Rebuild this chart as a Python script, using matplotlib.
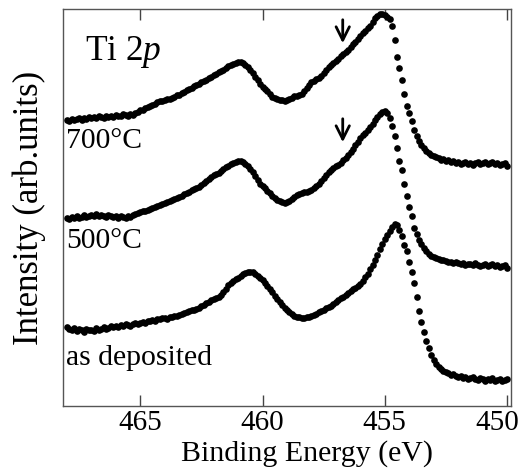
import matplotlib.pyplot as plt
import matplotlib.transforms as mtransforms
import numpy as np

plt.rcParams['font.family'] = ['Liberation Serif', 'DejaVu Serif']
plt.rcParams['mathtext.fontset'] = 'custom'
plt.rcParams['mathtext.rm'] = 'Liberation Serif'
plt.rcParams['mathtext.it'] = 'Liberation Serif:italic'

# binding energy grid, 0.1 eV step from 468.0 down to 450.0
energy = np.round(468.0 - 0.1 * np.arange(181), 1)

# stacked spectra (arb. units)
int_700 = [
    286, 285, 287, 286, 287, 288, 286, 288, 287, 289,
    288, 289, 288, 290, 289, 288, 290, 289, 290, 289,
    291, 290, 290, 292, 291, 290, 292, 291, 293, 294,
    296, 296, 298, 299, 300, 301, 302, 304, 305, 305,
    306, 307, 307, 308, 309, 311, 311, 313, 314, 316,
    317, 318, 320, 321, 322, 324, 325, 326, 328, 329,
    331, 332, 334, 335, 336, 338, 340, 341, 342, 343,
    344, 344, 343, 341, 339, 336, 333, 329, 326, 322,
    319, 317, 315, 312, 309, 308, 307, 306, 306, 305,
    306, 307, 308, 310, 310, 311, 312, 315, 318, 321,
    324, 325, 327, 328, 330, 333, 336, 339, 341, 343,
    345, 347, 350, 352, 354, 356, 359, 362, 364, 367,
    370, 373, 375, 378, 380, 384, 388, 390, 392, 392,
    391, 389, 387, 380, 366, 349, 338, 326, 312, 300,
    293, 285, 276, 270, 265, 261, 258, 255, 253, 251,
    250, 249, 248, 246, 247, 245, 246, 244, 245, 243,
    244, 242, 243, 244, 242, 243, 241, 243, 244, 242,
    243, 244, 242, 243, 244, 242, 243, 241, 242, 243, 240,
]
int_500 = [
    188, 187, 189, 188, 190, 188, 189, 191, 189, 190,
    191, 190, 192, 190, 191, 190, 189, 191, 190, 189,
    190, 188, 190, 189, 188, 190, 189, 191, 192, 193,
    194, 195, 195, 196, 197, 198, 199, 200, 201, 202,
    203, 204, 205, 206, 207, 208, 209, 210, 212, 213,
    214, 216, 217, 218, 219, 221, 223, 225, 227, 229,
    231, 232, 233, 235, 237, 239, 240, 242, 243, 244,
    245, 245, 244, 242, 240, 237, 234, 230, 226, 222,
    220, 218, 215, 213, 210, 208, 206, 205, 204, 203,
    204, 205, 207, 209, 211, 212, 213, 214, 214, 215,
    216, 218, 220, 222, 225, 228, 231, 234, 236, 238,
    240, 241, 243, 246, 248, 251, 254, 257, 261, 264,
    268, 271, 273, 276, 279, 282, 286, 289, 292, 294,
    295, 293, 288, 280, 270, 258, 245, 236, 222, 210,
    199, 190, 178, 172, 166, 162, 158, 155, 152, 150,
    149, 148, 147, 146, 146, 145, 144, 144, 143, 144,
    143, 142, 143, 141, 142, 142, 141, 143, 141, 140,
    141, 142, 140, 141, 142, 140, 141, 139, 140, 141, 138,
]
int_dep = [
    79, 77, 76, 78, 75, 77, 76, 74, 77, 76,
    76, 75, 78, 76, 77, 79, 77, 78, 80, 79,
    80, 79, 81, 80, 82, 81, 80, 82, 83, 82,
    83, 84, 83, 85, 85, 86, 85, 87, 87, 88,
    88, 87, 89, 89, 90, 90, 91, 92, 93, 94,
    95, 96, 96, 97, 98, 100, 101, 103, 104, 106,
    107, 108, 109, 111, 114, 117, 121, 123, 125, 127,
    128, 130, 132, 133, 134, 134, 134, 132, 130, 128,
    126, 123, 120, 117, 114, 110, 107, 104, 101, 98,
    96, 94, 92, 90, 89, 89, 88, 88, 89, 89,
    90, 91, 92, 94, 95, 96, 98, 99, 100, 102,
    104, 106, 108, 109, 111, 113, 115, 117, 118, 120,
    122, 125, 129, 132, 137, 141, 146, 151, 157, 162,
    167, 171, 175, 179, 182, 181, 176, 170, 161, 155,
    144, 134, 123, 109, 95, 84, 74, 65, 58, 51,
    46, 42, 39, 37, 35, 34, 33, 31, 32, 30,
    29, 30, 28, 29, 27, 28, 29, 27, 26, 28,
    27, 25, 27, 26, 28, 25, 26, 27, 25, 26, 27,
]

labels = ['700°C', '500°C', 'as deposited']
label_y = [258, 158, 41]
arrow_e = 456.72
arrow_tops = [389, 290]

fig = plt.figure(figsize=(5.27, 4.70), dpi=100)
ax = fig.add_axes([0.1195, 0.1362, 0.8501, 0.8447])

for spec in (int_700, int_500, int_dep):
    ax.plot(energy, spec, 'o', color='black', markersize=4.8,
            markeredgewidth=0, linestyle='none')

for text, y in zip(labels, label_y):
    ax.text(468.03, y, text, fontsize=21.3, va='baseline', ha='left')

ax.text(467.25, 346, r'Ti 2$\mathit{p}$', fontsize=25.5, va='baseline', ha='left')

for top in arrow_tops:
    ax.annotate('', xy=(arrow_e, top - 29), xytext=(arrow_e, top),
                arrowprops=dict(arrowstyle='->', color='black', lw=2,
                                mutation_scale=24))

ax.set_xlim(468.16, 449.84)
ax.set_ylim(0, 397)
ax.set_xticks([465, 460, 455, 450])
ax.set_yticks([])
ax.tick_params(axis='x', direction='in', length=8, width=1, top=True,
               labelsize=21, pad=3, color='#444444')
for sp in ax.spines.values():
    sp.set_color('#555555')
    sp.set_linewidth(1)

# last label sits a little left of its tick so it stays inside the figure
last = ax.get_xticklabels()[-1]
shift = mtransforms.ScaledTranslation(-10 / 100, 0, fig.dpi_scale_trans)
last.set_transform(last.get_transform() + shift)

ax.set_xlabel('Binding Energy (eV)', fontsize=21.5)
ax.xaxis.set_label_coords(0.545, -0.085)
ax.set_ylabel('Intensity (arb.units)', fontsize=25, labelpad=12)

fig.savefig('out.png', dpi=100)
